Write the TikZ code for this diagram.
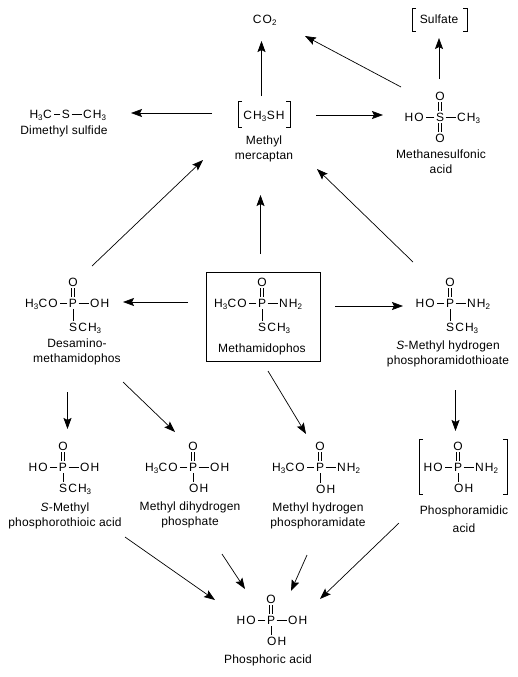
\documentclass[tikz,border=0pt]{standalone}
\usepackage{fontspec}
\setmainfont[LetterSpace=1.5]{Liberation Sans}
\newfontfamily\chemfont[LetterSpace=9]{Liberation Sans}
\usetikzlibrary{arrows.meta}

\tikzset{
    atom/.style={font=\fontsize{12}{14}\chemfont, inner sep=1pt, text height=9pt, text depth=0pt},
    chemname/.style={font=\fontsize{12}{15}\selectfont, align=center, inner sep=0pt},
    bond/.style={line width=0.7pt, shorten >=0.5pt, shorten <=0.5pt},
    dbond/.style={bond, double, double distance=2.4pt, line width=0.6pt},
    brack/.style={line width=0.7pt},
    arr/.style={line width=0.7pt, -{Stealth[length=11pt, width=8pt, inset=2pt]}}
}

\newcommand{\HtCO}{H\textsubscript{3}CO}
\newcommand{\NHt}{NH\textsubscript{2}}
\newcommand{\SCHt}{SCH\textsubscript{3}}

% name, x, y of P, left group, right group, bottom group, y offset of bottom group
\newcommand{\phos}[7]{
    \node[atom] (#1) at (#2,#3) {P};
    \node[atom] (#1o) at (#2,#3-21) {O};
    \node[atom, anchor=east] (#1l) at (#2-14,#3) {#4};
    \node[atom, anchor=west] (#1r) at (#2+16,#3) {#5};
    \node[atom, anchor=west] (#1b) at (#2-5,#3+#7) {#6};
    \draw[dbond] (#1) -- (#1o);
    \draw[bond] (#1) -- (#1l);
    \draw[bond] (#1) -- (#1r);
    \draw[bond] (#1) -- (#1|-#1b.north);
}
% x1, y1, x2, y2
\newcommand{\brackets}[4]{
    \draw[brack] (#1+4,#2) -- (#1,#2) -- (#1,#4) -- (#1+4,#4);
    \draw[brack] (#3-4,#2) -- (#3,#2) -- (#3,#4) -- (#3-4,#4);
}

\begin{document}
\begin{tikzpicture}[x=1pt, y=-1pt]
    \useasboundingbox (0,0) rectangle (517,677);

    % Top row
    \node[atom] (co2) at (265,19) {CO\textsubscript{2}};
    \node[chemname] (sulf) at (439,19) {Sulfate};
    \brackets{412}{8}{467}{31}

    % Dimethyl sulfide
    \node[atom] (dms) at (66,114) {S};
    \node[atom, anchor=east] (dmsl) at (53,114) {H\textsubscript{3}C};
    \node[atom, anchor=west] (dmsr) at (82,114) {CH\textsubscript{3}};
    \draw[bond] (dms) -- (dmsl);
    \draw[bond] (dms) -- (dmsr);
    \node[chemname] (dmsname) at (64,131) {Dimethyl sulfide};

    % Methyl mercaptan
    \node[atom] (merc) at (264,115) {CH\textsubscript{3}SH};
    \brackets{238}{101}{290}{127}
    \node[chemname] (mercname) at (264,149) {Methyl\\mercaptan};

    % Methanesulfonic acid
    \node[atom] (msa) at (440,117) {S};
    \node[atom] (msat) at (440,96) {O};
    \node[atom] (msab) at (440,138) {O};
    \node[atom, anchor=east] (msal) at (425,117) {HO};
    \node[atom, anchor=west] (msar) at (456,117) {CH\textsubscript{3}};
    \draw[dbond] (msa) -- (msat);
    \draw[dbond] (msa) -- (msab);
    \draw[bond] (msa) -- (msal);
    \draw[bond] (msa) -- (msar);
    \node[chemname] (msaname) at (441,162) {Methanesulfonic\\acid};

    % Middle row
    \node[draw, line width=0.7pt, minimum width=114pt, minimum height=89pt] (mbox) at (263.5,316.5) {};
    \phos{met}{262}{303}{\HtCO}{\NHt}{\SCHt}{24}
    \node[chemname] (metname) at (262,349) {Methamidophos};
    \phos{des}{73}{303}{\HtCO}{OH}{\SCHt}{24}
    \node[chemname] (desname) at (77,352) {Desamino-\\methamidophos};
    \phos{smh}{450}{303}{HO}{\NHt}{\SCHt}{24}
    \node[chemname] (smhname) at (448,354) {\textit{S}-Methyl hydrogen\\phosphoramidothioate};

    % Lower row
    \phos{spt}{63}{467}{HO}{OH}{\SCHt}{21}
    \node[chemname] (sptname) at (65,516) {\textit{S}-Methyl\\phosphorothioic acid};
    \phos{mdp}{193}{467}{\HtCO}{OH}{OH}{21}
    \node[chemname] (mdpname) at (190,515) {Methyl dihydrogen\\phosphate};
    \phos{mhp}{320}{467}{\HtCO}{\NHt}{OH}{22}
    \node[chemname] (mhpname) at (318,516) {Methyl hydrogen\\phosphoramidate};
    \phos{pa}{458}{467}{HO}{\NHt}{OH}{21}
    \brackets{419}{439}{507}{494}
    \node[chemname] (paname) at (464,519) {Phosphoramidic\\[3pt]acid};

    % Phosphoric acid
    \phos{ph}{271}{620}{HO}{OH}{OH}{21}
    \node[chemname] (phname) at (268,660) {Phosphoric acid};

    % Pathways
    \draw[arr] ([shift={(-2.5,-19)}]merc.center) -- ([shift={(-3.5,22)}]co2.center);
    \draw[arr] ([shift={(-39,-30)}]msa.center) -- ([shift={(40,17)}]co2.center);
    \draw[arr] ([shift={(-1,-38)}]msa.center) -- ([shift={(0,19)}]sulf.center);
    \draw[arr] ([shift={(-52,-2)}]merc.center) -- ([shift={(65,-1)}]dms.center);
    \draw[arr] ([shift={(52,0)}]merc.center) -- ([shift={(-57,-2)}]msa.center);
    \draw[arr] ([shift={(19,-37)}]des.center) -- ([shift={(-61,45)}]merc.center);
    \draw[arr] ([shift={(-1.5,-49)}]met.center) -- ([shift={(-3.5,80)}]merc.center);
    \draw[arr] ([shift={(-37,-41)}]smh.center) -- ([shift={(53,54)}]merc.center);
    \draw[arr] ([shift={(-74,-1)}]met.center) -- ([shift={(50,-1)}]des.center);
    \draw[arr] ([shift={(73,3)}]met.center) -- ([shift={(-47,3)}]smh.center);
    \draw[arr] ([shift={(-5.5,89)}]des.center) -- ([shift={(4.5,-38)}]spt.center);
    \draw[arr] ([shift={(50,79)}]des.center) -- ([shift={(-18,-35)}]mdp.center);
    \draw[arr] ([shift={(6,68)}]met.center) -- ([shift={(-14,-33)}]mhp.center);
    \draw[arr] ([shift={(5.5,87)}]smh.center) -- ([shift={(-2.5,-36)}]pa.center);
    \draw[arr] ([shift={(62,70)}]spt.center) -- ([shift={(-56,-20)}]ph.center);
    \draw[arr] ([shift={(29,87)}]mdp.center) -- ([shift={(-26,-31)}]ph.center);
    \draw[arr] ([shift={(-13,88)}]mhp.center) -- ([shift={(20,-29)}]ph.center);
    \draw[arr] ([shift={(-59,56)}]pa.center) -- ([shift={(49,-21)}]ph.center);
\end{tikzpicture}
\end{document}
